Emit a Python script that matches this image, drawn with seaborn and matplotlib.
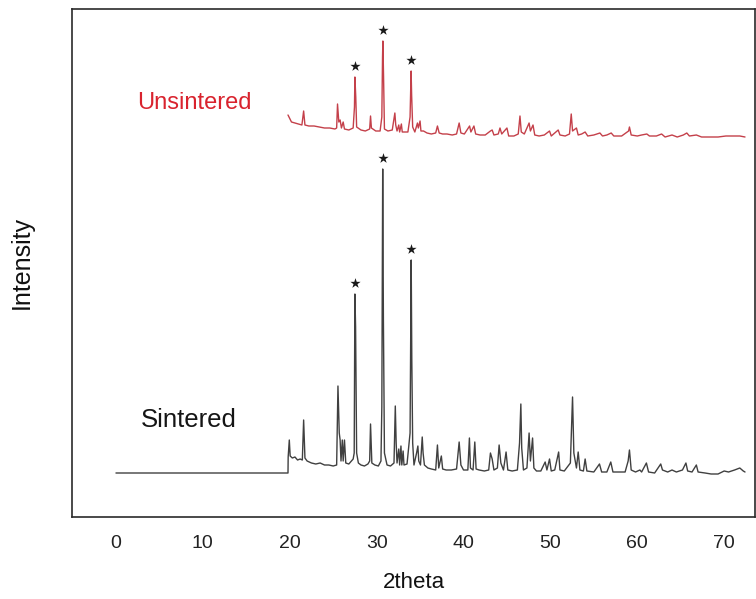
import numpy as np
import pandas as pd
import matplotlib
matplotlib.use("Agg")
import matplotlib.pyplot as plt
import seaborn as sns

# ---- data (2theta, intensity in arbitrary units) ----
sintered_2theta = [
    0.0, 19.8, 19.82, 19.95, 20.05, 20.3, 20.6, 20.9, 21.2, 21.45, 21.6, 21.75,
    22.0, 22.5, 23.0, 23.5, 24.0, 24.5, 25.0, 25.4, 25.55, 25.7, 25.8, 25.9,
    26.05, 26.15, 26.3, 26.45, 26.8, 27.1, 27.3, 27.42, 27.5, 27.58, 27.7,
    27.9, 28.2, 28.6, 29.0, 29.2, 29.3, 29.35, 29.45, 29.8, 30.2, 30.5, 30.6,
    30.7, 30.78, 30.9, 31.2, 31.6, 32.0, 32.15, 32.25, 32.35, 32.55, 32.65,
    32.8, 32.9, 33.05, 33.15, 33.5, 33.85, 33.98, 34.05, 34.15, 34.3, 34.6,
    34.75, 34.85, 35.05, 35.25, 35.35, 35.5, 35.9, 36.3, 36.8, 37.0, 37.15,
    37.45, 37.6, 38.0, 38.6, 39.2, 39.5, 39.7, 40.0, 40.5, 40.68, 40.8, 41.1,
    41.3, 41.45, 41.8, 42.4, 42.9, 43.1, 43.3, 43.5, 43.9, 44.1, 44.3, 44.6,
    44.9, 45.1, 45.6, 46.2, 46.45, 46.6, 46.7, 46.9, 47.3, 47.55, 47.7, 47.95,
    48.1, 48.4, 48.9, 49.4, 49.6, 49.9, 50.1, 50.5, 50.95, 51.1, 51.6, 52.3,
    52.55, 52.7, 53.0, 53.2, 53.4, 53.8, 54.0, 54.2, 55.0, 55.65, 55.9, 56.5,
    56.95, 57.2, 57.8, 58.6, 58.95, 59.1, 59.3, 59.8, 60.3, 60.5, 61.05, 61.3,
    62.0, 62.7, 62.9, 63.5, 64.0, 64.5, 65.2, 65.6, 65.8, 66.3, 66.8, 67.0,
    67.8, 68.5, 69.3, 70.0, 70.5, 71.2, 71.8, 72.2, 72.4,
]
sintered_intensity = [
    0, 0, 16, 33, 17, 15, 16, 13, 14, 13, 53, 15,
    12, 10, 9, 10, 8, 8, 7, 8, 87, 40, 33, 12,
    33, 12, 33, 10, 9, 12, 14, 20, 179, 146, 20,
    10, 8, 7, 9, 12, 49, 37, 10, 8, 7, 12, 66,
    304, 155, 20, 8, 7, 10, 67, 30, 10, 24, 8,
    27, 8, 22, 8, 9, 40, 213, 113, 30, 8, 20,
    27, 12, 8, 36, 20, 8, 5, 4, 3, 28, 5,
    17, 4, 3, 3, 4, 31, 8, 3, 3, 35, 5, 3,
    31, 4, 3, 2, 3, 20, 14, 3, 5, 28, 10, 3,
    21, 3, 2, 3, 30, 69, 25, 3, 5, 40, 12, 35,
    5, 2, 2, 11, 3, 14, 2, 3, 21, 3, 2, 10,
    76, 20, 5, 21, 3, 2, 14, 2, 1, 9, 1, 1,
    11, 1, 1, 1, 12, 23, 3, 1, 3, 1, 10, 1,
    0, 9, 3, 1, 3, 1, 3, 10, 2, 1, 8, 1,
    0, -1, -1, 2, 1, 3, 5, 2, 1,
]

unsintered_2theta = [
    19.8, 20.2, 20.6, 21.0, 21.4, 21.6, 21.75, 22.2, 22.8, 23.4, 24.0, 24.6,
    25.2, 25.4, 25.5, 25.65, 25.8, 25.95, 26.15, 26.3, 26.8, 27.3, 27.45, 27.5,
    27.6, 27.7, 28.2, 28.7, 29.2, 29.3, 29.4, 29.9, 30.4, 30.6, 30.68, 30.72,
    30.8, 30.9, 31.3, 31.8, 32.1, 32.2, 32.35, 32.55, 32.65, 32.85, 32.95,
    33.2, 33.6, 33.85, 33.97, 34.03, 34.15, 34.4, 34.7, 34.8, 35.0, 35.1,
    35.4, 35.8, 36.3, 36.8, 37.0, 37.2, 37.6, 38.1, 38.7, 39.2, 39.5, 39.7,
    40.1, 40.7, 40.85, 41.2, 41.4, 41.9, 42.5, 43.1, 43.3, 43.5, 44.0, 44.2,
    44.4, 45.0, 45.2, 45.8, 46.3, 46.5, 46.65, 47.0, 47.55, 47.7, 48.0, 48.2,
    48.7, 49.3, 49.9, 50.1, 50.9, 51.1, 51.7, 52.2, 52.4, 52.55, 53.0, 53.2,
    53.6, 54.0, 54.3, 55.0, 55.7, 56.0, 56.5, 57.0, 57.3, 58.2, 59.0, 59.1,
    59.3, 60.0, 60.5, 61.1, 61.4, 62.2, 62.8, 63.2, 64.0, 64.6, 65.3, 65.7,
    66.0, 66.8, 67.4, 68.3, 69.3, 70.2, 71.0, 71.8, 72.4,
]
unsintered_intensity = [
    22, 15, 14, 13, 12, 26, 12, 11, 11, 10, 9, 9,
    8, 9, 33, 15, 17, 9, 15, 8, 7, 9, 30, 60,
    40, 10, 7, 6, 8, 21, 9, 6, 6, 20, 80, 96,
    60, 8, 6, 7, 24, 12, 6, 12, 5, 13, 5,
    5, 5, 20, 66, 42, 10, 5, 14, 9, 16, 6,
    6, 4, 3, 4, 11, 4, 3, 3, 2, 3, 14, 4,
    3, 11, 5, 11, 3, 2, 2, 6, 7, 2, 3, 9,
    3, 9, 1, 1, 3, 21, 5, 3, 14, 6, 12, 2,
    1, 2, 6, 1, 7, 2, 1, 3, 23, 6, 9, 2,
    3, 5, 1, 2, 4, 1, 2, 4, 1, 1, 6, 10,
    2, 1, 2, 3, 1, 1, 3, 0, 2, 0, 2, 4,
    1, 2, 0, 0, 0, 1, 1, 1, 0,
]

marked_peaks = [27.5, 30.7, 34.0]          # peaks labelled with a star
unsintered_offset = 336                     # vertical stacking offset
x_ticks = [0, 10, 20, 30, 40, 50, 60, 70]

sint = pd.DataFrame({"2theta": sintered_2theta, "Intensity": sintered_intensity})
unsint = pd.DataFrame({"2theta": unsintered_2theta,
                       "Intensity": np.array(unsintered_intensity) + unsintered_offset})

# ---- figure ----
sns.set_style("white")
plt.rcParams["font.family"] = ["Liberation Sans", "DejaVu Sans"]

fig = plt.figure(figsize=(7.56, 5.99), dpi=100)
ax = fig.add_axes([72 / 756, 1 - 517 / 599, 683 / 756, (517 - 8.5) / 599])

sint_color = "#404040"
unsint_color = "#c4404a"

sns.lineplot(data=sint, x="2theta", y="Intensity", ax=ax, sort=False,
             estimator=None, color=sint_color, linewidth=1.0)
sns.lineplot(data=unsint, x="2theta", y="Intensity", ax=ax, sort=False,
             estimator=None, color=unsint_color, linewidth=1.0)

# stars above the marked peaks
star_gap = 11
for df in (sint, unsint):
    for p in marked_peaks:
        near = df[(df["2theta"] > p - 0.15) & (df["2theta"] < p + 0.15)]
        ax.scatter([near.loc[near["Intensity"].idxmax(), "2theta"]],
                   [near["Intensity"].max() + star_gap],
                   marker="*", s=60, color="#1a1a1a", zorder=5, linewidths=0)

ax.text(0.096, 0.814, "Unsintered", transform=ax.transAxes, fontsize=17,
        color="#d9232e", ha="left", va="center")
ax.text(0.101, 0.19, "Sintered", transform=ax.transAxes, fontsize=18.5,
        color="#151515", ha="left", va="center")

ax.set_xlim(-5.06, 73.55)
ax.set_ylim(-44, 464.5)
ax.set_xticks(x_ticks)
ax.set_xticklabels([str(t) for t in x_ticks])
ax.set_yticks([])
ax.tick_params(axis="x", length=0, pad=13, labelsize=14, labelcolor="#222222")
ax.set_xlabel("2theta", fontsize=16, color="#111111", labelpad=14)
ax.set_ylabel("Intensity", fontsize=18, color="#111111")
ax.yaxis.set_label_coords(-0.056, 0.5)

for s in ax.spines.values():
    s.set_visible(True)
    s.set_color("#2a2a2a")
    s.set_linewidth(1.2)

fig.savefig("out.png", dpi=100)
